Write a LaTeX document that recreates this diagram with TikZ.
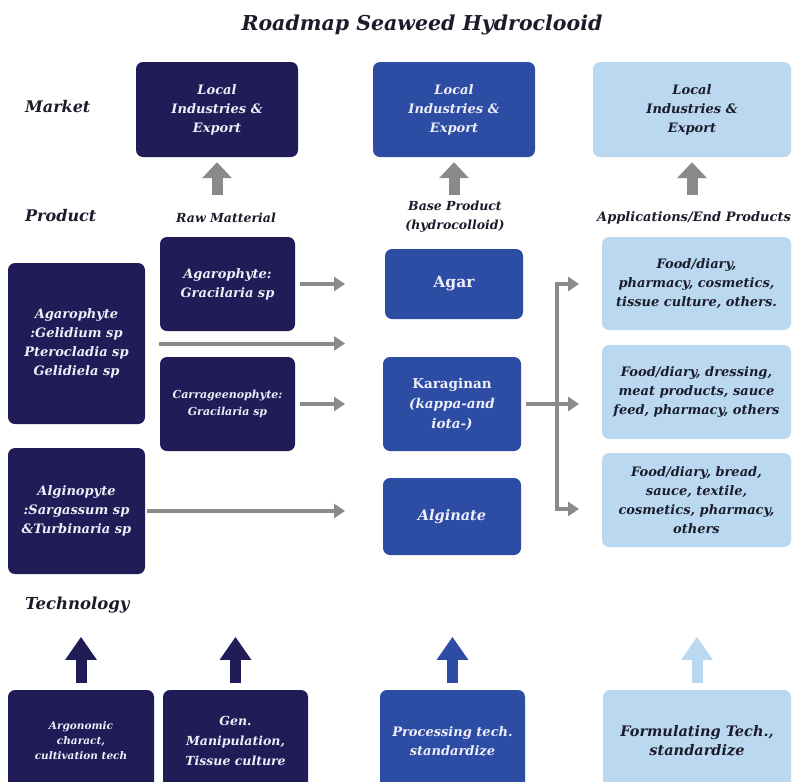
\documentclass[tikz,border=0pt]{standalone}
\usepackage{fontspec}
\setmainfont{DejaVu Serif}
\usepackage{xcolor}
\usetikzlibrary{arrows.meta}

\definecolor{navy}{HTML}{1F1C58}
\definecolor{midblue}{HTML}{2D4CA4}
\definecolor{paleblue}{HTML}{BAD9F1}
\definecolor{arrowgray}{HTML}{8A8A8A}
\definecolor{inkdark}{HTML}{1B1B2B}
\definecolor{softwhite}{HTML}{EEEEF8}

\begin{document}
\begin{tikzpicture}[x=1pt, y=-1pt,
    box/.style={rounded corners=7pt, inner sep=2pt, align=center, font=\bfseries\itshape\fontsize{13}{19}\selectfont},
    darkbox/.style={box, fill=navy, text=softwhite},
    bluebox/.style={box, fill=midblue, text=softwhite},
    palebox/.style={box, fill=paleblue, text=inkdark},
    rowlabel/.style={anchor=west, inner sep=0pt, text=inkdark, font=\bfseries\itshape\fontsize{16}{19}\selectfont},
    collabel/.style={align=center, text=inkdark, font=\bfseries\itshape\fontsize{12.5}{19}\selectfont},
    flow/.style={arrowgray, line width=4pt, -{Triangle[width=14pt,length=11pt]}},
    liftgray/.style={arrowgray, line width=11pt, -{Triangle[width=29pt,length=16pt]}},
    lift/.style={line width=11pt, -{Triangle[width=30pt,length=23pt]}}]

\clip (0,0) rectangle (793,782);
\fill[white] (0,0) rectangle (793,782);

\node[text=inkdark, font=\bfseries\itshape\fontsize{20.5}{24}\selectfont] (title) at (422,25) {Roadmap Seaweed Hydroclooid};

\node[rowlabel] (market) at (25,107) {Market};
\node[rowlabel] (product) at (25,216) {Product};
\node[rowlabel, font=\bfseries\itshape\fontsize{16.5}{19}\selectfont] (technology) at (25,605) {Technology};

% market
\node[darkbox, minimum width=162pt, minimum height=95pt] (M1) at (217,109.5) {Local\\Industries \&\\Export};
\node[bluebox, minimum width=162pt, minimum height=95pt] (M2) at (454,109.5) {Local\\Industries \&\\Export};
\node[palebox, minimum width=198pt, minimum height=95pt] (M3) at (692,109.5) {Local\\Industries \&\\Export};

\node[collabel] (raw) at (226,218) {Raw Matterial};
\node[collabel] (base) at (455,217) {Base Product\\(hydrocolloid)};
\node[collabel, font=\bfseries\itshape\fontsize{13}{19}\selectfont] (apps) at (694,218) {Applications/End Products};

\draw[liftgray] ([yshift=-38pt]M1.south) -- ([yshift=-5pt]M1.south);
\draw[liftgray] ([yshift=-38pt]M2.south) -- ([yshift=-5pt]M2.south);
\draw[liftgray] ([yshift=-38pt]M3.south) -- ([yshift=-5pt]M3.south);

% raw material
\node[darkbox, minimum width=137pt, minimum height=161pt] (L1) at (76.5,343.5) {Agarophyte\\:Gelidium sp\\Pterocladia sp\\Gelidiela sp};
\node[darkbox, minimum width=137pt, minimum height=126pt] (L2) at (76.5,511) {Alginopyte\\:Sargassum sp\\\&Turbinaria sp};
\node[darkbox, minimum width=135pt, minimum height=94pt] (R1) at (227.5,284) {Agarophyte:\\Gracilaria sp};
\node[darkbox, minimum width=135pt, minimum height=94pt, font=\bfseries\itshape\fontsize{11}{17}\selectfont] (R2) at (227.5,404) {Carrageenophyte:\\Gracilaria sp};

% base product
\node[bluebox, minimum width=138pt, minimum height=70pt, font=\bfseries\fontsize{15.5}{19}\selectfont] (C1) at (454,284) {Agar};
\node[bluebox, minimum width=138pt, minimum height=94pt, font=\bfseries\itshape\fontsize{13.5}{20}\selectfont] (C2) at (452,404) {{\upshape Karaginan}\\(kappa-and\\iota-)};
\node[bluebox, minimum width=138pt, minimum height=77pt, font=\bfseries\itshape\fontsize{14.5}{20}\selectfont] (C3) at (452,516.5) {Alginate};

% end products
\node[palebox, minimum width=189pt, minimum height=93pt] (A1) at (696.5,283.5) {Food/diary,\\pharmacy, cosmetics,\\tissue culture, others.};
\node[palebox, minimum width=189pt, minimum height=94pt] (A2) at (696.5,392) {Food/diary, dressing,\\meat products, sauce\\feed, pharmacy, others};
\node[palebox, minimum width=189pt, minimum height=94pt] (A3) at (696.5,500) {Food/diary, bread,\\sauce, textile,\\cosmetics, pharmacy,\\others};

\coordinate (tipline) at (345,0);
\draw[flow] ([xshift=5pt]R1.east) -- (R1.east -| tipline);
\draw[flow] ([xshift=14pt]L1.east) -- (L1.east -| tipline);
\draw[flow] ([xshift=5pt]R2.east) -- (R2.east -| tipline);
\draw[flow] ([xshift=2pt]L2.east) -- (L2.east -| tipline);

\coordinate (fork) at (557,0);
\coordinate (t1) at (579,284);
\coordinate (t2) at (579,404);
\coordinate (t3) at (579,509);
\draw[flow] ([xshift=5pt]C2.east) -- (t2);
\draw[flow] (fork |- t3) -- (fork |- t1) -- (t1);
\draw[flow] (fork |- t1) -- (fork |- t3) -- (t3);

% technology
\node[darkbox, minimum width=146pt, minimum height=102pt, font=\bfseries\itshape\fontsize{10.5}{15}\selectfont] (B1) at (81,741) {Argonomic\\charact,\\cultivation tech};
\node[darkbox, minimum width=145pt, minimum height=102pt, font=\bfseries\itshape\fontsize{12.5}{20}\selectfont] (B2) at (235.5,741) {Gen.\\Manipulation,\\Tissue culture};
\node[bluebox, minimum width=145pt, minimum height=102pt, font=\bfseries\itshape\fontsize{13}{19}\selectfont] (B3) at (452.5,741) {Processing tech.\\standardize};
\node[palebox, minimum width=188pt, minimum height=102pt, font=\bfseries\itshape\fontsize{14.5}{19}\selectfont] (B4) at (697,741) {Formulating Tech.,\\standardize};

\draw[lift, navy] ([yshift=7pt]B1.north) -- ([yshift=53pt]B1.north);
\draw[lift, navy] ([yshift=7pt]B2.north) -- ([yshift=53pt]B2.north);
\draw[lift, midblue] ([yshift=7pt]B3.north) -- ([yshift=53pt]B3.north);
\draw[lift, paleblue] ([yshift=7pt]B4.north) -- ([yshift=53pt]B4.north);

\end{tikzpicture}
\end{document}
